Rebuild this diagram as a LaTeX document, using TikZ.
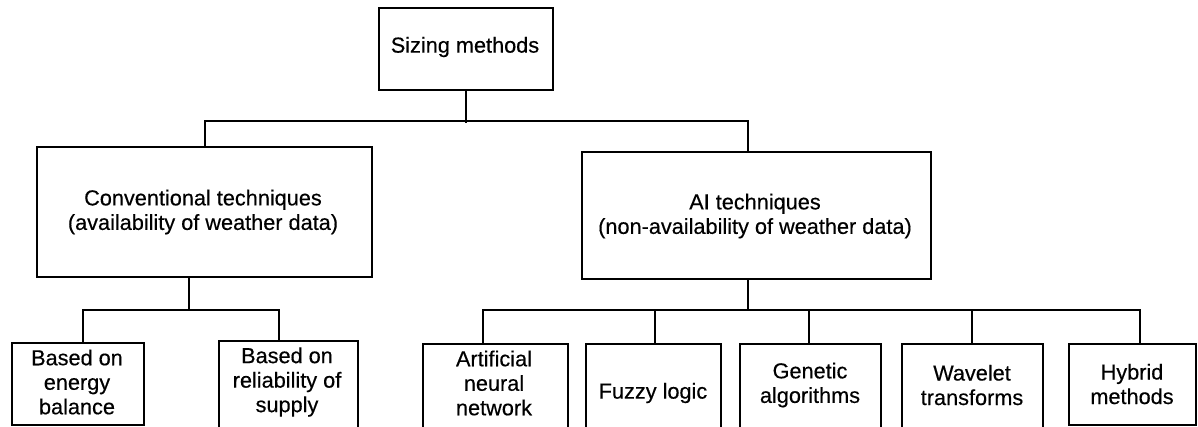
\documentclass[tikz,border=0pt]{standalone}
\usepackage{fontspec}
\setmainfont{Liberation Sans}[FakeBold=0.4]
\begin{document}
\begin{tikzpicture}[x=1pt, y=-1pt,
  box/.style={draw, line width=2.1pt, rectangle, inner sep=0pt, anchor=north west},
  lbl/.style={align=center, inner sep=0pt, font=\fontsize{21.7}{24.5}\selectfont},
  wire/.style={line width=2.1pt}]
\useasboundingbox (0,0) rectangle (1198,426);
\clip (0,0) rectangle (1198,426);

% boxes
\node[box, minimum width=174pt, minimum height=82pt]  (top)  at (378,7)   {};
\node[box, minimum width=335pt, minimum height=130pt] (conv) at (36,146)  {};
\node[box, minimum width=349pt, minimum height=127pt] (ai)   at (581,151) {};
\node[box, minimum width=132pt, minimum height=82pt]  (eb)   at (11,342)  {};
\node[box, minimum width=139pt, minimum height=100pt] (rs)   at (218,340) {};
\node[box, minimum width=145pt, minimum height=100pt] (ann)  at (422,343) {};
\node[box, minimum width=135pt, minimum height=100pt] (fuz)  at (585,343) {};
\node[box, minimum width=141pt, minimum height=100pt] (gen)  at (739,343) {};
\node[box, minimum width=141pt, minimum height=100pt] (wav)  at (901,343) {};
\node[box, minimum width=127pt, minimum height=81pt]  (hyb)  at (1068,343) {};

% labels
\node[lbl] (topT)  at (465,47)    {Sizing methods};
\node[lbl] (convT) at (203,212)   {Conventional techniques\\(availability of weather data)};
\node[lbl] (aiT)   at (755,216)   {AI techniques\\(non-availability of weather data)};
\node[lbl] (ebT)   at (77,382)    {Based on\\energy\\balance};
\node[lbl] (rsT)   at (287,382)   {Based on\\reliability of\\supply};
\node[lbl] (annT)  at (494,383)   {Artificial\\neural\\network};
\node[lbl] (fuzT)  at (653,393)   {Fuzzy logic};
\node[lbl] (genT)  at (810,385)   {Genetic\\algorithms};
\node[lbl] (wavT)  at (972,385)   {Wavelet\\transforms};
\node[lbl] (hybT)  at (1132,384)  {Hybrid\\methods};

% junction points of the buses
\coordinate (aiIn) at (748,151);
\coordinate (busL) at (189,310);
\coordinate (t1) at (83,310);
\coordinate (t2) at (279,310);
\coordinate (rm) at (748,310);
\coordinate (r1) at (483,310);
\coordinate (r2) at (655,310);
\coordinate (r3) at (809,310);
\coordinate (r4) at (972,310);
\coordinate (r5) at (1140,310);

% top level
\draw[wire] (top.south) -- ++(0,32);
\draw[wire] (conv.north) -- ++(0,-25) -| (aiIn);

% conventional branch
\draw[wire] (conv.south -| busL) -- (busL);
\draw[wire] (eb.north -| t1) |- (t2) -- (rs.north -| t2);

% AI branch
\draw[wire] (ai.south -| rm) -- (rm);
\draw[wire] (ann.north -| r1) |- (r5) -- (hyb.north -| r5);
\draw[wire] (fuz.north -| r2) -- (r2);
\draw[wire] (gen.north -| r3) -- (r3);
\draw[wire] (wav.north -| r4) -- (r4);
\end{tikzpicture}
\end{document}
